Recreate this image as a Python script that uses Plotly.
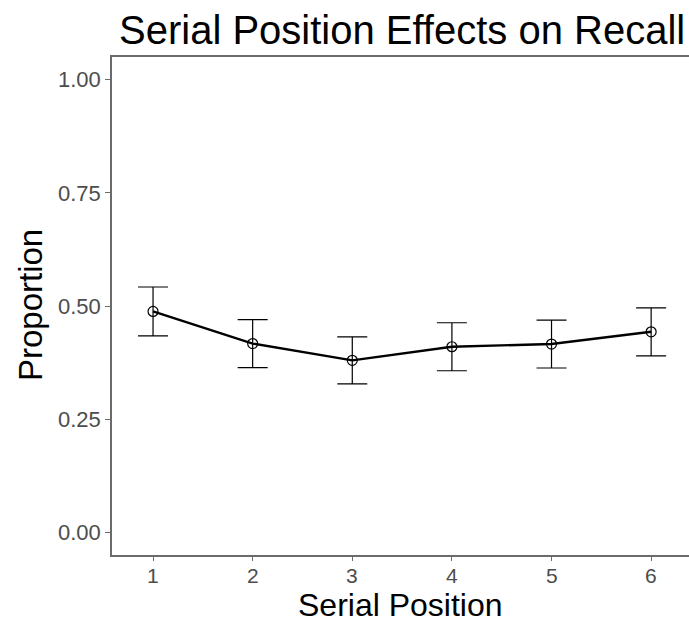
import plotly.graph_objects as go

# Recall proportion by serial position, with symmetric error margins
positions = [1, 2, 3, 4, 5, 6]
proportion = [0.488, 0.417, 0.380, 0.410, 0.416, 0.443]
error = [0.054, 0.053, 0.052, 0.053, 0.053, 0.053]

x_tick_labels = ["1", "2", "3", "4", "5", "6"]
y_ticks = [0.00, 0.25, 0.50, 0.75, 1.00]
y_tick_labels = ["0.00", "0.25", "0.50", "0.75", "1.00"]

FONT = "Liberation Sans, Arial, sans-serif"
AXIS_GREY = "#6b6b6b"
LABEL_GREY = "#4d4d4d"

fig = go.Figure()
fig.add_trace(go.Scatter(
    x=positions,
    y=proportion,
    mode="lines+markers",
    line=dict(color="black", width=2.4),
    marker=dict(symbol="circle-open", size=10, color="black", line=dict(width=1.2)),
    error_y=dict(type="data", array=error, visible=True,
                 color="black", thickness=1.2, width=15),
    showlegend=False,
))

# x tick labels placed as annotations so they sit snugly under the axis
tick_annotations = [
    dict(text=lab, x=pos, xref="x", y=-0.0402, yref="paper",
         xanchor="center", yanchor="middle", showarrow=False,
         font=dict(size=21, color=LABEL_GREY, family=FONT))
    for pos, lab in zip(positions, x_tick_labels)
]

fig.update_layout(
    width=689,
    height=624,
    margin=dict(l=112, r=0, t=57, b=69),
    paper_bgcolor="white",
    plot_bgcolor="white",
    font=dict(family=FONT),
    xaxis=dict(
        range=[0.588, 6.38],
        tickvals=positions,
        showticklabels=False,
        showgrid=False, zeroline=False,
        showline=True, linecolor=AXIS_GREY, linewidth=1.5, mirror=True,
        ticks="outside", ticklen=4, tickcolor=AXIS_GREY, tickwidth=1.2,
    ),
    yaxis=dict(
        range=[-0.05, 1.05],
        tickvals=y_ticks,
        ticktext=y_tick_labels,
        showgrid=False, zeroline=False,
        showline=True, linecolor=AXIS_GREY, linewidth=1.5,
        ticks="outside", ticklen=5, tickcolor=AXIS_GREY, tickwidth=1.2,
        tickfont=dict(size=22, color=LABEL_GREY, family=FONT),
    ),
    annotations=tick_annotations + [
        dict(text="Serial Position Effects on Recall", xref="paper", yref="paper",
             x=0.5026, y=1.054, xanchor="center", yanchor="middle", showarrow=False,
             font=dict(size=40, color="black", family=FONT)),
        dict(text="Serial Position", xref="paper", yref="paper",
             x=0.5, y=-0.1004, xanchor="center", yanchor="middle", showarrow=False,
             font=dict(size=32, color="black", family=FONT)),
        dict(text="Proportion", xref="paper", yref="paper", textangle=-90,
             x=-0.142, y=0.502, xanchor="center", yanchor="middle", showarrow=False,
             font=dict(size=33, color="black", family=FONT)),
    ],
)

fig.write_html("out.html")
